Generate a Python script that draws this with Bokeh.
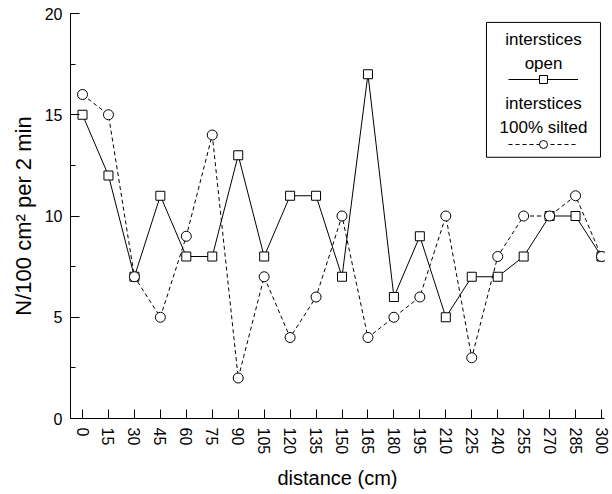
from bokeh.plotting import figure
from bokeh.models import (FixedTicker, SingleIntervalTicker, Range1d, Legend,
                          LegendItem, BoxAnnotation, Label)
from bokeh.embed import file_html
from bokeh.resources import INLINE

# distance along the channel (cm)
distance = [0, 15, 30, 45, 60, 75, 90, 105, 120, 135, 150,
            165, 180, 195, 210, 225, 240, 255, 270, 285, 300]
# individuals per 100 cm² per 2 min
open_counts = [15, 12, 7, 11, 8, 8, 13, 8, 11, 11, 7,
               17, 6, 9, 5, 7, 7, 8, 10, 10, 8]
silted_counts = [16, 15, 7, 5, 9, 14, 2, 7, 4, 6, 10,
                 4, 5, 6, 10, 3, 8, 10, 10, 11, 8]

FONT = "Liberation Sans"

p = figure(width=612, height=494, output_backend="svg", toolbar_location=None,
           x_range=Range1d(-6.94, 301.73), y_range=Range1d(0, 20),
           min_border_left=70, min_border_right=8, min_border_top=13,
           min_border_bottom=76)
p.outline_line_color = None
p.xgrid.grid_line_color = None
p.ygrid.grid_line_color = None
p.background_fill_color = "white"
p.border_fill_color = "white"

# axes
p.xaxis.ticker = FixedTicker(ticks=distance)
p.yaxis.ticker = SingleIntervalTicker(interval=5, num_minor_ticks=2)
for ax in (p.xaxis[0], p.yaxis[0]):
    ax.axis_line_color = "black"
    ax.major_tick_line_color = "black"
    ax.minor_tick_line_color = "black"
    ax.major_tick_in = 9
    ax.major_tick_out = 0
    ax.minor_tick_in = 5
    ax.minor_tick_out = 0
    ax.major_label_text_font = FONT
    ax.major_label_text_font_size = "16px"
    ax.major_label_text_color = "black"
    ax.axis_label_text_font = FONT
    ax.axis_label_text_font_style = "normal"
    ax.axis_label_text_color = "black"
p.xaxis.minor_tick_line_color = None
p.xaxis.major_label_orientation = "vertical"
p.xaxis.major_label_standoff = 9
p.yaxis.major_label_standoff = 8
p.xaxis.axis_label = "distance (cm)"
p.xaxis.axis_label_text_font_size = "20px"
p.xaxis.axis_label_standoff = 10
p.yaxis.axis_label = "N/100 cm² per 2 min"
p.yaxis.axis_label_text_font_size = "22px"
p.yaxis.axis_label_standoff = 6

# series
open_line = p.line(distance, open_counts, line_color="black", line_width=1)
open_pts = p.scatter(distance, open_counts, marker="square", size=9,
                     fill_color="white", line_color="black", line_width=1)
silt_line = p.line(distance, silted_counts, line_color="black", line_width=1,
                   line_dash="4 3")
silt_pts = p.scatter(distance, silted_counts, marker="circle", size=10,
                     fill_color="white", line_color="black", line_width=1)

# legend frame and captions
p.add_layout(BoxAnnotation(left=233.5, right=299.4, bottom=12.9, top=19.56,
                           fill_color=None, line_color="black",
                           line_alpha=1.0, line_width=1))
captions = [("interstices", 18.72), ("open", 17.53),
            ("interstices", 15.56), ("100% silted", 14.37)]
for txt, yy in captions:
    p.add_layout(Label(x=266.5, y=yy, text=txt, text_align="center",
                       text_baseline="middle", text_font=FONT,
                       text_font_size="17px", text_color="black"))

# legend samples (glyph only)
def sample(renderers, loc):
    lg = Legend(items=[LegendItem(label=" ", renderers=renderers)],
                location=loc, padding=0, margin=0, spacing=0,
                glyph_width=70, glyph_height=20, label_standoff=0,
                label_width=0, label_height=20, label_text_font_size="1px",
                border_line_color=None, background_fill_alpha=0)
    p.add_layout(lg, "center")

sample([open_line, open_pts], (438, 329))
sample([silt_line, silt_pts], (438, 264))

open("out.html", "w").write(file_html(p, INLINE))
